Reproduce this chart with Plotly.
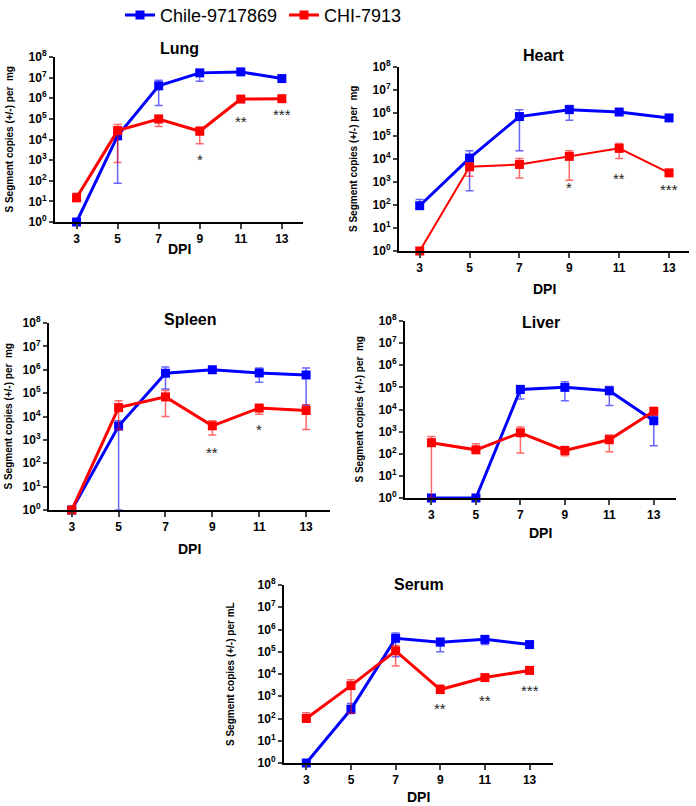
import math
import plotly.graph_objects as go

W, H = 696, 806

dpi = [3, 5, 7, 9, 11, 13]
series_names = ["Chile-9717869", "CHI-7913"]

# Lung
lung_chile = [1, 1.5e4, 4e6, 1.7e7, 1.9e7, 9e6]
lung_chile_hi = [1, 2.2e4, 7.4e6, 2.4e7, 2.6e7, 1.0e7]
lung_chile_lo = [1, 75, 4.5e5, 6.6e6, 1.5e7, 8e6]
lung_chi = [15, 2.7e4, 9.8e4, 2.5e4, 9.1e5, 9.5e5]
lung_chi_hi = [25, 5.4e4, 1.5e5, 4e4, 1.1e6, 1.1e6]
lung_chi_lo = [10, 760, 4.3e4, 6.2e3, 7.5e5, 9e5]
lung_stars = [(9, "*", 1.5e3), (11, "**", 1.1e5), (13, "***", 2.3e5)]

# Heart
heart_chile = [93, 1.1e4, 7e5, 1.4e6, 1.1e6, 6.1e5]
heart_chile_hi = [175, 2.3e4, 1.4e6, 2.1e6, 1.3e6, 6.5e5]
heart_chile_lo = [80, 420, 2.3e4, 4.9e5, 9e5, 5.5e5]
heart_chi = [1, 4.6e3, 5.8e3, 1.3e4, 2.9e4, 2.5e3]
heart_chi_hi = [1, 5.5e3, 1.05e4, 2.3e4, 4.7e4, 2.7e3]
heart_chi_lo = [1, 1.8e3, 1.5e3, 1.2e3, 1.05e4, 2.3e3]
heart_stars = [(9, "*", 8.1e2), (11, "**", 1.9e3), (13, "***", 6.2e2)]

# Spleen
spleen_chile = [1, 3.9e3, 7.1e5, 1e6, 7.3e5, 6e5]
spleen_chile_hi = [1, 6.5e3, 1.3e6, 1.25e6, 1.2e6, 1.2e6]
spleen_chile_lo = [1, 1, 1.5e5, 8e5, 2.9e5, 3e4]
spleen_chi = [1, 2.4e4, 6.9e4, 4e3, 2.3e4, 1.8e4]
spleen_chi_hi = [1, 4.7e4, 1.3e5, 6.5e3, 2.8e4, 3.2e4]
spleen_chi_lo = [1, 2.8e3, 1e4, 1.6e3, 1.26e4, 2.8e3]
spleen_stars = [(9, "**", 3.9e2), (11, "*", 3.6e3)]

# Liver
liver_chile = [1, 1, 8e4, 1e5, 7e4, 3.1e3]
liver_chile_hi = [1, 1, 1.2e5, 1.8e5, 1.1e5, 5.5e3]
liver_chile_lo = [1, 1, 3e4, 2.5e4, 1.5e4, 230]
liver_chi = [316, 150, 890, 141, 430, 8.4e3]
liver_chi_hi = [600, 280, 1.6e3, 215, 700, 1e4]
liver_chi_lo = [1, 120, 107, 81, 123, 7e3]
liver_stars = []

# Serum
serum_chile = [1, 260, 4e5, 2.7e5, 3.6e5, 2.1e5]
serum_chile_hi = [1, 470, 6.9e5, 4e5, 4.9e5, 2.4e5]
serum_chile_lo = [1, 166, 6e4, 1e5, 2.1e5, 1.9e5]
serum_chi = [100, 3e3, 1.1e5, 2e3, 6.9e3, 1.45e4]
serum_chi_hi = [180, 5.5e3, 1.9e5, 3.2e3, 8.5e3, 1.9e4]
serum_chi_lo = [80, 170, 2.3e4, 1.5e3, 5.5e3, 1.2e4]
serum_stars = [(9, "**", 4e2), (11, "**", 9.1e2), (13, "***", 2.6e3)]

ytick_vals = [10 ** k for k in range(9)]
ytick_text = ["10<sup>%d</sup>" % k for k in range(9)]

BLUE = "#0000ff"
RED = "#ff0000"

panels = [
    dict(title="Lung", ylab="S Segment copies (+/-) per\u00a0 mg",
         chile=(lung_chile, lung_chile_hi, lung_chile_lo),
         chi=(lung_chi, lung_chi_hi, lung_chi_lo), stars=lung_stars,
         px=(55, 303), py=(57, 222), xr=(1.95, 14.03), red_w=3,
         title_y=49, dpi_y=249, ylab_x=9),
    dict(title="Heart", ylab="S Segment copies (+/-) per\u00a0 mg",
         chile=(heart_chile, heart_chile_hi, heart_chile_lo),
         chi=(heart_chi, heart_chi_hi, heart_chi_lo), stars=heart_stars,
         px=(399, 689), py=(67, 251), xr=(2.17, 13.8), red_w=2,
         title_y=55, dpi_y=289, ylab_x=353),
    dict(title="Spleen", ylab="S Segment copies (+/-) per\u00a0 mg",
         chile=(spleen_chile, spleen_chile_hi, spleen_chile_lo),
         chi=(spleen_chi, spleen_chi_hi, spleen_chi_lo), stars=spleen_stars,
         px=(49, 330), py=(323, 510), xr=(2.03, 14.02), red_w=3,
         title_y=319, dpi_y=549, ylab_x=8),
    dict(title="Liver", ylab="S Segment copies (+/-) per\u00a0 mg",
         chile=(liver_chile, liver_chile_hi, liver_chile_lo),
         chi=(liver_chi, liver_chi_hi, liver_chi_lo), stars=liver_stars,
         px=(405, 676), py=(321, 498), xr=(1.81, 14.0), red_w=3,
         title_y=322, dpi_y=533, ylab_x=359),
    dict(title="Serum", ylab="S Segment copies (+/-) per mL",
         chile=(serum_chile, serum_chile_hi, serum_chile_lo),
         chi=(serum_chi, serum_chi_hi, serum_chi_lo), stars=serum_stars,
         px=(284, 553), py=(585, 763), xr=(2.0, 14.05), red_w=3,
         title_y=584, dpi_y=797, ylab_x=230),
]


def fx(p):
    return p / W


def fy(p):
    return 1 - p / H


fig = go.Figure()
annotations = []
layout = {}
FONT = "Arial, Liberation Sans, sans-serif"

for i, p in enumerate(panels):
    n = i + 1
    xa = "x" if n == 1 else "x%d" % n
    ya = "y" if n == 1 else "y%d" % n
    for key, color, name, lw in [("chile", BLUE, series_names[0], 3),
                                 ("chi", RED, series_names[1], p["red_w"])]:
        vals, hi, lo = p[key]
        ecol = "rgba(0,0,255,0.6)" if key == "chile" else "rgba(255,0,0,0.6)"
        fig.add_trace(go.Scatter(
            x=dpi, y=vals, mode="lines+markers", name=name,
            xaxis=xa, yaxis=ya, showlegend=(n == 1),
            line=dict(color=color, width=lw),
            marker=dict(symbol="square", size=9, color=color),
            error_y=dict(type="data", symmetric=False,
                         array=[h - v for h, v in zip(hi, vals)],
                         arrayminus=[v - l for v, l in zip(vals, lo)],
                         color=ecol, thickness=1.5, width=4),
            cliponaxis=False,
        ))
    xkey = "xaxis" if n == 1 else "xaxis%d" % n
    ykey = "yaxis" if n == 1 else "yaxis%d" % n
    layout[xkey] = dict(
        domain=[fx(p["px"][0]), fx(p["px"][1])], anchor=ya,
        range=list(p["xr"]), tickvals=dpi, ticks="outside", ticklen=5,
        tickwidth=1.5, showline=True, linewidth=2, linecolor="black",
        showgrid=False, zeroline=False, automargin=False,
        tickfont=dict(family=FONT, size=12, color="black", weight="bold"),
    )
    layout[ykey] = dict(
        domain=[fy(p["py"][1]), fy(p["py"][0])], anchor=xa, type="log",
        range=[0, 8], tickvals=ytick_vals, ticktext=ytick_text,
        ticks="outside", ticklen=4, tickwidth=1.5, showline=True,
        linewidth=2, linecolor="black", showgrid=False, zeroline=False,
        automargin=False,
        tickfont=dict(family=FONT, size=12, color="black", weight="bold"),
    )
    cx = (p["px"][0] + p["px"][1]) / 2
    annotations.append(dict(
        text="<b>%s</b>" % p["title"], x=fx(cx), y=fy(p["title_y"]),
        xref="paper", yref="paper", showarrow=False, xanchor="center",
        yanchor="middle", font=dict(family=FONT, size=16, color="black")))
    annotations.append(dict(
        text="<b>DPI</b>", x=fx(cx), y=fy(p["dpi_y"]),
        xref="paper", yref="paper", showarrow=False, xanchor="center",
        yanchor="middle", font=dict(family=FONT, size=14, color="black")))
    cy = (p["py"][0] + p["py"][1]) / 2
    annotations.append(dict(
        text="<b>%s</b>" % p["ylab"], x=fx(p["ylab_x"]), y=fy(cy),
        xref="paper", yref="paper", showarrow=False, textangle=-90,
        xanchor="center", yanchor="middle",
        font=dict(family=FONT, size=10, color="black")))
    for (sx, st, sv) in p["stars"]:
        annotations.append(dict(
            text=st, x=sx, y=math.log10(sv), xref=xa, yref=ya,
            showarrow=False, yshift=-3,
            font=dict(family=FONT, size=15, color="#222")))

fig.update_layout(
    width=W, height=H,
    margin=dict(l=0, r=0, t=0, b=0, pad=0, autoexpand=False),
    paper_bgcolor="white", plot_bgcolor="white",
    legend=dict(orientation="h", x=fx(120), xanchor="left", y=1.004,
                yanchor="top", font=dict(family=FONT, size=18, color="black"),
                itemwidth=30, tracegroupgap=0, entrywidth=119),
    annotations=annotations,
    **layout,
)

fig.write_html("out.html",
               config=dict(displayModeBar=False),
               post_script="document.body.style.margin='0px';"
                           "document.body.style.overflow='hidden';")
